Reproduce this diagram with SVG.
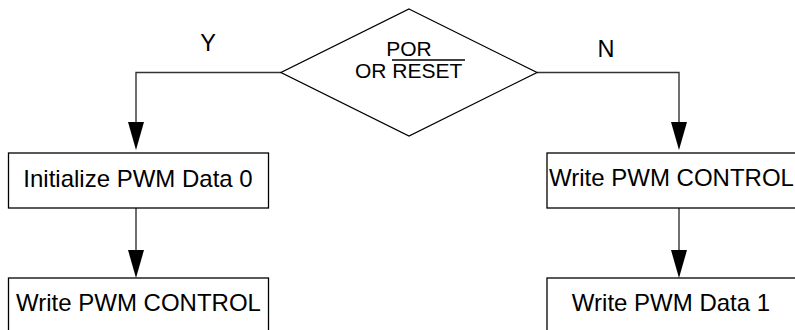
<svg xmlns="http://www.w3.org/2000/svg" width="795" height="330" viewBox="0 0 795 330">
<style>
.box{fill:#fff;stroke:#000;stroke-width:1.3}
.ln{fill:none;stroke:#333;stroke-width:1.4}
.ah{fill:#000;stroke:none}
text{font-family:"Liberation Sans",Arial,sans-serif;fill:#000}
.t{font-size:24px;text-anchor:middle}
</style>
<rect width="795" height="330" fill="#fff"/>
<g id="connectors">
<polyline class="ln" points="281,72.5 136,72.5 136,124"/>
<polygon class="ah" points="128,122 144,122 136,150"/>
<polyline class="ln" points="537,72.5 679,72.5 679,124"/>
<polygon class="ah" points="671,122 687,122 679,150"/>
<line class="ln" x1="136" y1="208" x2="136" y2="252"/>
<polygon class="ah" points="128,250 144,250 136,278"/>
<line class="ln" x1="679" y1="208" x2="679" y2="252"/>
<polygon class="ah" points="671,250 687,250 679,278"/>
<text x="208" y="51" style="font-size:23.5px;text-anchor:middle">Y</text>
<text x="606" y="57" style="font-size:23.5px;text-anchor:middle">N</text>
</g>
<g id="decision">
<polygon class="box" points="409,9 537,72.5 409,136 281,72.5"/>
<text x="409" y="55.5" style="font-size:21px;text-anchor:middle">POR</text>
<text x="355" y="77.5" style="font-size:21px">OR RESET</text>
<line x1="392" y1="60" x2="465" y2="60" stroke="#000" stroke-width="1.4"/>
</g>
<g id="init">
<rect class="box" x="8.5" y="153" width="260" height="55"/>
<text class="t" x="138" y="187">Initialize PWM Data 0</text>
</g>
<g id="writeControlLeft">
<rect class="box" x="8.5" y="278" width="260" height="70"/>
<text class="t" x="138.5" y="310.5">Write PWM CONTROL</text>
</g>
<g id="writeControlRight">
<rect class="box" x="547" y="153" width="270" height="55"/>
<text class="t" x="671.5" y="186">Write PWM CONTROL</text>
</g>
<g id="writeData1">
<rect class="box" x="547" y="278" width="270" height="70"/>
<text class="t" x="671" y="310.5">Write PWM Data 1</text>
</g>
</svg>
